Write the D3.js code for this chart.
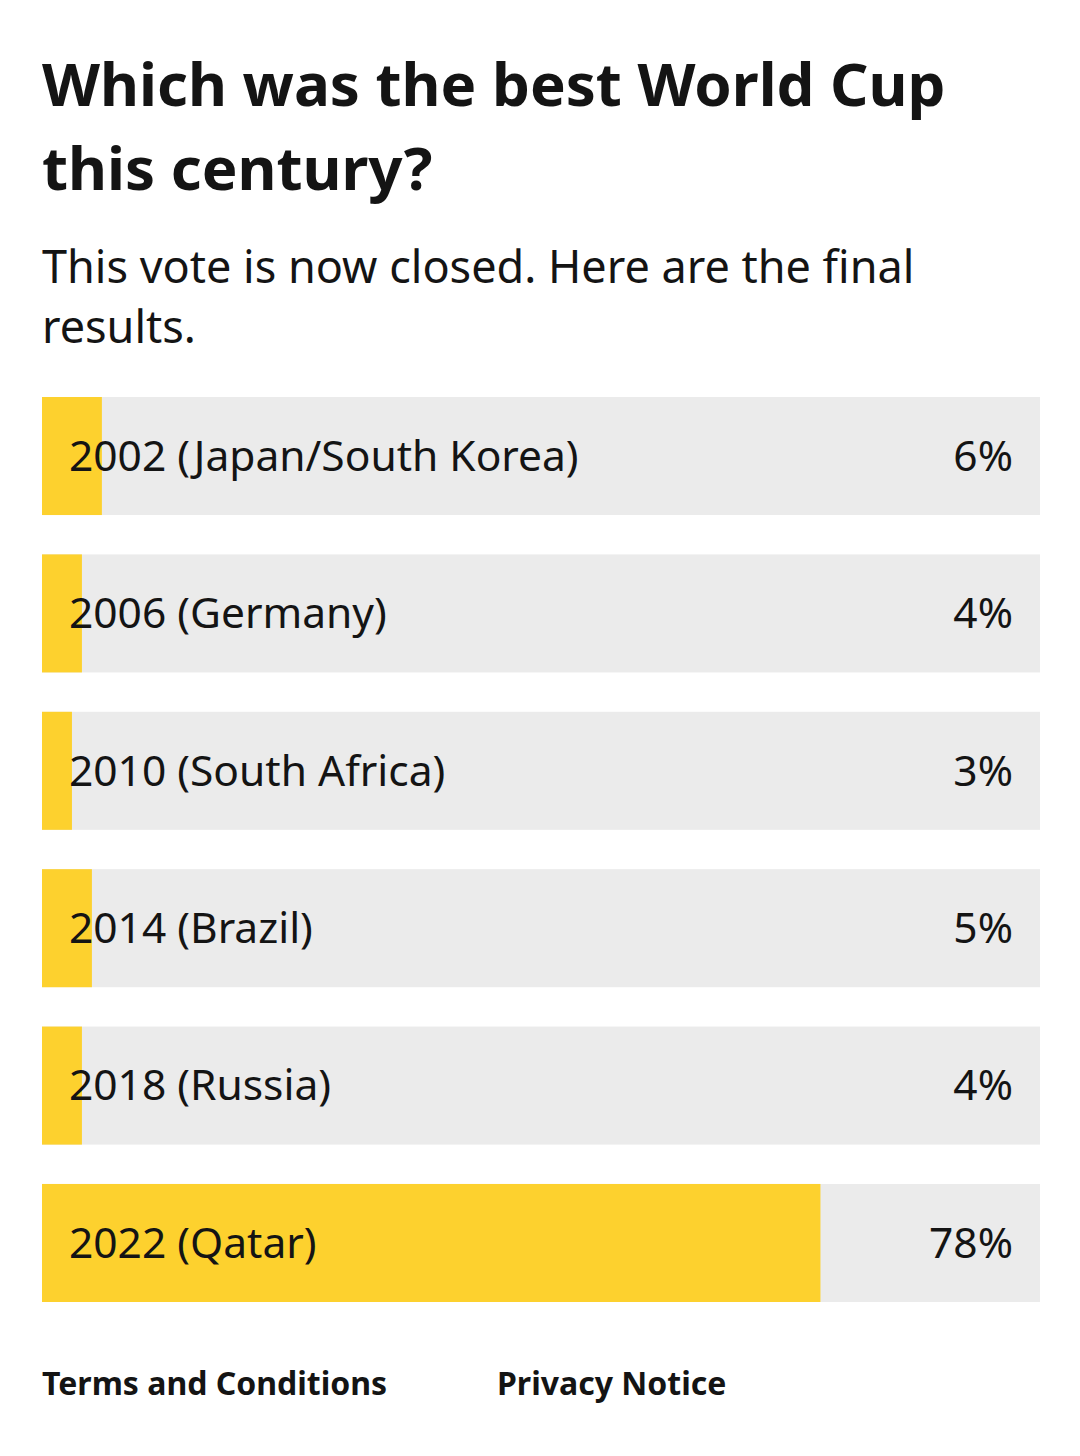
<!DOCTYPE html>
<html lang="en">
<head>
  <meta charset="UTF-8">
  <title>Which was the best World Cup this century?</title>
  <style>
    body {
      margin: 0;
      padding: 0;
      background-color: #ffffff;
    }
    svg {
      display: block;
      font-family: "Noto Sans", "Open Sans", sans-serif;
    }
  </style>
  <script src="https://d3js.org/d3.v7.min.js"></script>
</head>
<body>
  <div id="chart"></div>
  <script>
    const options = [
      "2002 (Japan/South Korea)",
      "2006 (Germany)",
      "2010 (South Africa)",
      "2014 (Brazil)",
      "2018 (Russia)",
      "2022 (Qatar)"
    ];
    const shares = [6, 4, 3, 5, 4, 78];

    const titleLines = ["Which was the best World Cup", "this century?"];
    const subtitleLines = ["This vote is now closed. Here are the final", "results."];
    const footerLinks = ["Terms and Conditions", "Privacy Notice"];

    const width = 1080, height = 1456;

    const svg = d3.select("#chart")
      .append("svg")
      .attr("width", width)
      .attr("height", height);

    // title
    svg.append("g")
      .selectAll("text")
      .data(titleLines)
      .enter()
      .append("text")
      .attr("x", 42)
      .attr("y", (d, i) => 106 + i * 84)
      .attr("fill", "#141414")
      .style("font-size", "60px")
      .style("font-weight", "700")
      .text(d => d);

    // subtitle
    svg.append("g")
      .selectAll("text")
      .data(subtitleLines)
      .enter()
      .append("text")
      .attr("x", 42)
      .attr("y", (d, i) => 283 + i * 60)
      .attr("fill", "#141414")
      .style("font-size", "45px")
      .text(d => d);

    const xScale = d3.scaleLinear()
      .domain([0, 100])
      .range([42, 1040]);

    const yScale = d3.scaleBand()
      .domain(options)
      .range([397, 1302])
      .paddingInner(0.25);

    const rows = svg.append("g")
      .selectAll(".row")
      .data(options.map((d, i) => ({ label: d, value: shares[i] })))
      .enter()
      .append("g")
      .attr("class", "row");

    rows.append("rect")
      .attr("x", xScale(0))
      .attr("y", d => yScale(d.label))
      .attr("width", xScale(100) - xScale(0))
      .attr("height", yScale.bandwidth())
      .attr("fill", "#ebebeb");

    rows.append("rect")
      .attr("x", xScale(0))
      .attr("y", d => yScale(d.label))
      .attr("width", d => xScale(d.value) - xScale(0))
      .attr("height", yScale.bandwidth())
      .attr("fill", "#fdd12e");

    rows.append("text")
      .attr("x", 69)
      .attr("y", d => yScale(d.label) + yScale.bandwidth() / 2)
      .attr("dy", "0.35em")
      .attr("fill", "#141414")
      .style("font-size", "42.5px")
      .text(d => d.label);

    rows.append("text")
      .attr("x", 1013)
      .attr("y", d => yScale(d.label) + yScale.bandwidth() / 2)
      .attr("dy", "0.35em")
      .attr("text-anchor", "end")
      .attr("fill", "#141414")
      .style("font-size", "42.5px")
      .text(d => d.value + "%");

    // footer links
    svg.append("g")
      .selectAll("text")
      .data(footerLinks)
      .enter()
      .append("text")
      .attr("x", (d, i) => i === 0 ? 42 : 497)
      .attr("y", 1395)
      .attr("fill", "#141414")
      .style("font-size", "32px")
      .style("font-weight", "700")
      .text(d => d);
  </script>
</body>
</html>
